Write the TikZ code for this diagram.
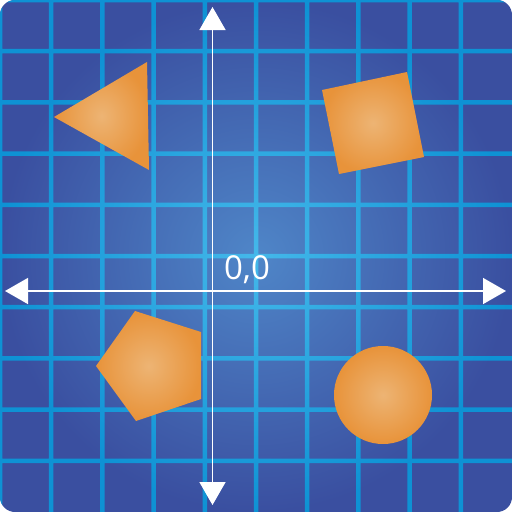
\documentclass[tikz,border=0pt]{standalone}
\usepackage{fontspec}
\setmainfont{Open Sans}
\usetikzlibrary{arrows.meta}
\definecolor{bgout}{HTML}{3A4FA0}
\definecolor{bgin}{HTML}{4F86C8}
\definecolor{lnout}{HTML}{0E92D4}
\definecolor{lnin}{HTML}{45B8EA}
\definecolor{orout}{HTML}{E8933A}
\definecolor{orin}{HTML}{EDB474}
\begin{document}
\begin{tikzpicture}[x=1pt,y=-1pt,
  shapeorange/.style={inner color=orin, outer color=orout},
  axis/.style={draw=white, line width=1.5pt, {Triangle[width=26pt,length=23pt]}-{Triangle[width=26pt,length=23pt]}},
  label/.style={text=white, font=\fontsize{33}{40}\selectfont, anchor=base, inner sep=0pt}]
\useasboundingbox (0,0) rectangle (512,512);
\begin{scope}
  \clip[rounded corners=15pt] (0,0) rectangle (512,512);
  \shade[inner color=bgin, outer color=bgout] (0,0) rectangle (512,512);
  \begin{scope}
    \clip \foreach \k in {0,...,9} { (\k*51.2-2.25,-1) rectangle (\k*51.2+2.25,513) (-1,\k*51.2-2.25) rectangle (513,\k*51.2+2.25) };
    \shade[inner color=lnin, outer color=lnout] (0,0) rectangle (512,512);
  \end{scope}
\end{scope}
% axes
\coordinate (L) at (5,291);
\coordinate (R) at (506,291);
\coordinate (T) at (212.5,7);
\coordinate (B) at (212.5,505);
\draw[axis] (L) -- (R);
\draw[axis] (T) -- (B);
% shapes
\shade[shapeorange] (54,117) -- (147,62) -- (149,170) -- cycle;
\shade[shapeorange] (322,90) -- (407,72) -- (424,157) -- (339,174) -- cycle;
\shade[shapeorange] (135,311) -- (201,332) -- (201,399) -- (136,421) -- (96,366) -- cycle;
\shade[shapeorange] (383,395) circle (49);
\node[label] (origin) at (247,279) {0,0};
\end{tikzpicture}
\end{document}
